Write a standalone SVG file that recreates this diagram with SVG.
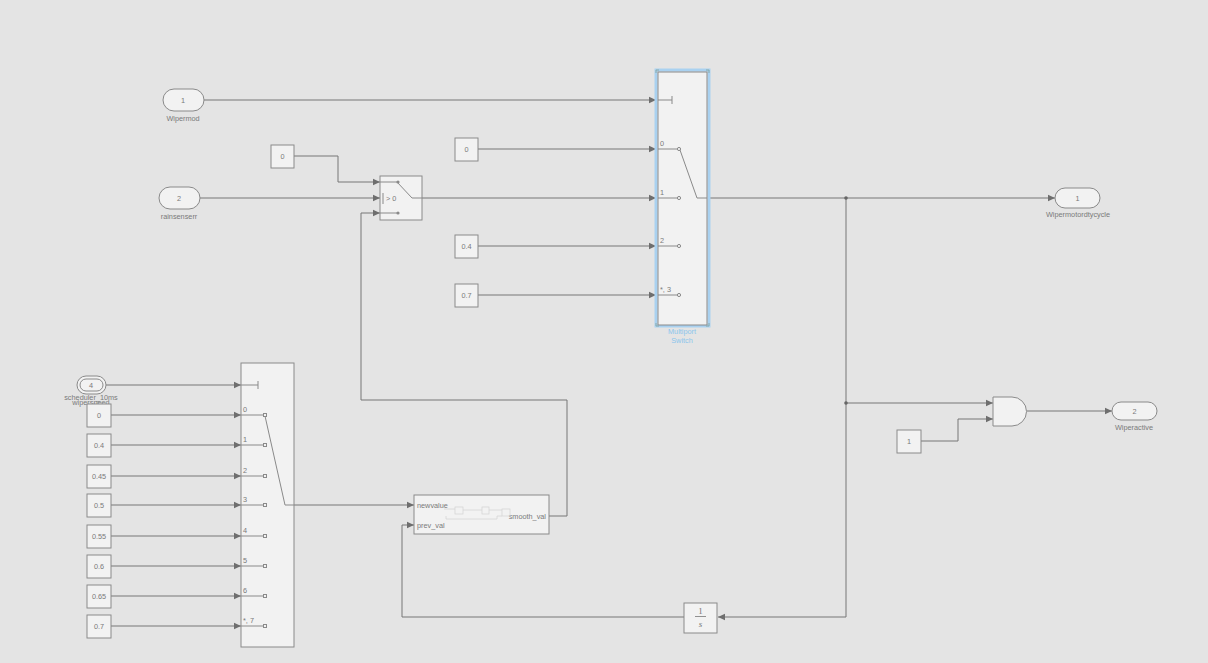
<svg xmlns="http://www.w3.org/2000/svg" width="1208" height="663" viewBox="0 0 1208 663">
<defs>
<marker id="ar" markerWidth="8" markerHeight="8" refX="7" refY="4" orient="auto" markerUnits="userSpaceOnUse">
<path d="M0,0.8 L7,4 L0,7.2 Z" fill="#6e6e6e"/>
</marker>
<style>
.bg{fill:#e4e4e4}
.blk{fill:#f2f2f2;stroke:#8a8a8a;stroke-width:1}
.ln{fill:none;stroke:#777;stroke-width:1}
.la{fill:none;stroke:#777;stroke-width:1;marker-end:url(#ar)}
.in{fill:none;stroke:#8a8a8a;stroke-width:1}
.t{font-family:"Liberation Sans",Arial,sans-serif;font-size:7.3px;fill:#7a7a7a}
.tc{font-family:"Liberation Sans",Arial,sans-serif;font-size:7.3px;fill:#7a7a7a;text-anchor:middle}
.tb{font-family:"Liberation Sans",Arial,sans-serif;font-size:7.3px;fill:#8cc4ec;text-anchor:middle}
.pc{fill:#f2f2f2;stroke:#8a8a8a;stroke-width:1}
.dot{fill:#666}
</style>
</defs>
<rect class="bg" x="0" y="0" width="1208" height="663"/>

<g id="connectors">
<path class="la" d="M204,100 H656"/>
<path class="la" d="M294,156 H338 V182 H380"/>
<path class="la" d="M200,198 H380"/>
<path class="la" d="M422,198 H656"/>
<path class="la" d="M478,149 H656"/>
<path class="la" d="M478,246 H656"/>
<path class="la" d="M478,295 H656"/>
<path class="la" d="M549,516 H567 V400 H361 V213 H380"/>
<path class="la" d="M708,198 H1055"/>
<path class="la" d="M846,198 V403 H993"/>
<path class="la" d="M846,403 V617 H718"/>
<path class="la" d="M684,617 H402 V525 H414"/>
<path class="la" d="M921,441 H958 V419 H993"/>
<path class="la" d="M1027,411 H1112"/>
<path class="la" d="M106,385 H241"/>
<path class="la" d="M111,415 H241"/>
<path class="la" d="M111,445 H241"/>
<path class="la" d="M111,476 H241"/>
<path class="la" d="M111,505 H241"/>
<path class="la" d="M111,536 H241"/>
<path class="la" d="M111,566 H241"/>
<path class="la" d="M111,596 H241"/>
<path class="la" d="M111,626 H241"/>
<path class="la" d="M294,505 H414"/>
<circle class="dot" cx="846" cy="198" r="1.8"/>
<circle class="dot" cx="846" cy="403" r="1.8"/>
</g>

<g id="in_wipermod">
<rect class="blk" x="163" y="89" width="41" height="22" rx="11"/>
<text class="tc" x="183" y="102.5">1</text>
<text class="tc" x="183" y="121">Wipermod</text>
</g>

<g id="in_rainsenserr">
<rect class="blk" x="159" y="187" width="41" height="22" rx="11"/>
<text class="tc" x="179" y="200.5">2</text>
<text class="tc" x="179" y="219">rainsenserr</text>
</g>

<g id="const_0_top">
<rect class="blk" x="271" y="145" width="23" height="23"/>
<text class="tc" x="282.5" y="158.5">0</text>
</g>

<g id="switch">
<rect class="blk" x="380" y="176" width="42" height="44"/>
<path class="in" d="M380,182 H397 M397,182 L412,198 H422 M380,213 H398 M383,193 V204"/>
<circle cx="398" cy="182" r="1.6" fill="#8a8a8a"/>
<circle cx="398" cy="213" r="1.6" fill="#8a8a8a"/>
<text class="t" x="386" y="200.5">&gt; 0</text>
</g>

<g id="const_0_mp">
<rect class="blk" x="455" y="138" width="23" height="23"/>
<text class="tc" x="466.5" y="151.5">0</text>
</g>
<g id="const_04_mp">
<rect class="blk" x="455" y="235" width="23" height="23"/>
<text class="tc" x="466.5" y="248.5">0.4</text>
</g>
<g id="const_07_mp">
<rect class="blk" x="455" y="284" width="23" height="23"/>
<text class="tc" x="466.5" y="297.5">0.7</text>
</g>

<g id="multiport_switch">
<rect x="656" y="70" width="53" height="256" fill="none" stroke="#a9d1f0" stroke-width="3"/>
<rect class="blk" x="658" y="72" width="49" height="253"/>
<path class="in" d="M658,100 H672 M672,96 V104 M658,149 H679 M658,198 H679 M658,246 H679 M658,295 H679 M680,150 L697,198 H707"/>
<circle cx="679" cy="149" r="1.6" class="pc"/>
<circle cx="679" cy="198" r="1.6" class="pc"/>
<circle cx="679" cy="246" r="1.6" class="pc"/>
<circle cx="679" cy="295" r="1.6" class="pc"/>
<text class="t" x="660" y="146">0</text>
<text class="t" x="660" y="195">1</text>
<text class="t" x="660" y="243">2</text>
<text class="t" x="660" y="292">*, 3</text>
<path d="M656,73 V70 H659 M706,70 H709 V73 M656,323 V326 H659 M706,326 H709 V323" fill="none" stroke="#8aa" stroke-width="1"/>
<text class="tb" x="682" y="334">Multiport</text>
<text class="tb" x="682" y="343">Switch</text>
</g>

<g id="out_wipermotordtycycle">
<rect class="blk" x="1055" y="188" width="45" height="20" rx="10"/>
<text class="tc" x="1077.5" y="200.5">1</text>
<text class="tc" x="1078" y="217">Wipermotordtycycle</text>
</g>

<g id="and_gate">
<path class="blk" d="M993,397 H1012 A14.5,14.5 0 0 1 1012,426 H993 Z"/>
</g>

<g id="const_1">
<rect class="blk" x="897" y="430" width="24" height="23"/>
<text class="tc" x="909" y="443.5">1</text>
</g>

<g id="out_wiperactive">
<rect class="blk" x="1112" y="402" width="45" height="18" rx="9"/>
<text class="tc" x="1134.5" y="413.5">2</text>
<text class="tc" x="1134" y="430">Wiperactive</text>
</g>

<g id="integrator">
<rect class="blk" x="684" y="603" width="33" height="30"/>
<text x="700.5" y="613.5" font-family="Liberation Serif,serif" font-size="9" fill="#777" text-anchor="middle">1</text>
<line x1="695" y1="616.5" x2="706" y2="616.5" stroke="#777" stroke-width="0.8"/>
<text x="700.5" y="627" font-family="Liberation Serif,serif" font-size="9" font-style="italic" fill="#777" text-anchor="middle">s</text>
</g>

<g id="smooth">
<rect class="blk" x="414" y="495" width="135" height="39"/>
<text class="t" x="417" y="507.5">newvalue</text>
<text class="t" x="417" y="527.5">prev_val</text>
<text class="t" x="546" y="518.5" text-anchor="end">smooth_val</text>
<g fill="none" stroke="#d6d6d6" stroke-width="0.8">
<rect x="455" y="507" width="8" height="7"/>
<rect x="482" y="507" width="7" height="7"/>
<rect x="502" y="509" width="8" height="7"/>
<path d="M444,509 H455 M463,510 H482 M489,510 H502 M446,519 H497 V516 H502 M446,519 V516"/>
</g>
</g>

<g id="in_wiperspeed">
<rect x="77" y="376" width="29" height="18" rx="9" fill="#f2f2f2" stroke="#8a8a8a"/>
<rect x="80" y="379" width="23" height="12" rx="6" fill="none" stroke="#8a8a8a"/>
<text class="tc" x="91" y="388">4</text>
<text class="tc" x="91" y="400">scheduler_10ms</text>
<text class="tc" x="91" y="405">wiperspeed</text>
</g>

<g id="c_0"><rect class="blk" x="87" y="404" width="24" height="23"/><text class="tc" x="99" y="417.5">0</text></g>
<g id="c_04"><rect class="blk" x="87" y="434" width="24" height="23"/><text class="tc" x="99" y="447.5">0.4</text></g>
<g id="c_045"><rect class="blk" x="87" y="465" width="24" height="23"/><text class="tc" x="99" y="478.5">0.45</text></g>
<g id="c_05"><rect class="blk" x="87" y="494" width="24" height="23"/><text class="tc" x="99" y="507.5">0.5</text></g>
<g id="c_055"><rect class="blk" x="87" y="525" width="24" height="23"/><text class="tc" x="99" y="538.5">0.55</text></g>
<g id="c_06"><rect class="blk" x="87" y="555" width="24" height="23"/><text class="tc" x="99" y="568.5">0.6</text></g>
<g id="c_065"><rect class="blk" x="87" y="585" width="24" height="23"/><text class="tc" x="99" y="598.5">0.65</text></g>
<g id="c_07"><rect class="blk" x="87" y="615" width="24" height="23"/><text class="tc" x="99" y="628.5">0.7</text></g>

<g id="multiport_switch2">
<rect class="blk" x="241" y="363" width="53" height="284"/>
<path class="in" d="M241,385 H258 M258,381 V389 M241,415 H265 M241,445 H265 M241,476 H265 M241,505 H265 M241,536 H265 M241,566 H265 M241,596 H265 M241,626 H265 M265,416 L285,505 H294"/>
<rect x="263.5" y="413.5" width="3" height="3" class="pc"/>
<rect x="263.5" y="443.5" width="3" height="3" class="pc"/>
<rect x="263.5" y="474.5" width="3" height="3" class="pc"/>
<rect x="263.5" y="503.5" width="3" height="3" class="pc"/>
<rect x="263.5" y="534.5" width="3" height="3" class="pc"/>
<rect x="263.5" y="564.5" width="3" height="3" class="pc"/>
<rect x="263.5" y="594.5" width="3" height="3" class="pc"/>
<rect x="263.5" y="624.5" width="3" height="3" class="pc"/>
<text class="t" x="243" y="412">0</text>
<text class="t" x="243" y="442">1</text>
<text class="t" x="243" y="473">2</text>
<text class="t" x="243" y="502">3</text>
<text class="t" x="243" y="533">4</text>
<text class="t" x="243" y="563">5</text>
<text class="t" x="243" y="593">6</text>
<text class="t" x="243" y="623">*, 7</text>
</g>
</svg>
